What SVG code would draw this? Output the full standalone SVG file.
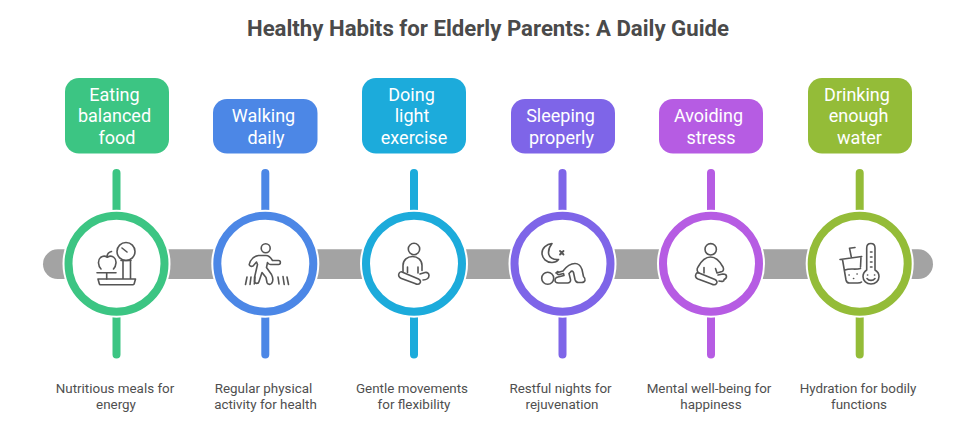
<svg xmlns="http://www.w3.org/2000/svg" width="958" height="437" viewBox="0 0 958 437">
<style>
text{font-family:Roboto,"Liberation Sans",sans-serif}
.title{font-size:22.2px;font-weight:700;fill:#4a4a4a;text-anchor:middle}
.lab{font-size:18px;fill:#fff;text-anchor:middle}
.cap{font-size:13.4px;fill:#4f4f4f;text-anchor:middle}
.halo{fill:#fff}
.ring{fill:#fff;stroke-width:8}
.stem{fill:none;stroke-width:8;stroke-linecap:round}
.ic{fill:none;stroke:#555;stroke-width:1.6;stroke-linecap:round;stroke-linejoin:round}
</style>
<rect width="958" height="437" fill="#fff"/>
<text class="title" x="488" y="36">Healthy Habits for Elderly Parents: A Daily Guide</text>
<g id="connectors">
<rect x="43" y="249.3" width="890" height="29.7" rx="14.85" fill="#a3a3a3"/>
<path class="stem" stroke="#3cc583" d="M116.5 173V212M116.5 316V354.500"/>
<path class="stem" stroke="#4c87e6" d="M265.300 173V212M265.300 316V354.500"/>
<path class="stem" stroke="#1cabdb" d="M414 173V212M414 316V354.500"/>
<path class="stem" stroke="#7e65e8" d="M562.500 173V212M562.500 316V354.500"/>
<path class="stem" stroke="#b65ce3" d="M711 173V212M711 316V354.500"/>
<path class="stem" stroke="#94bc38" d="M859.700 173V212M859.700 316V354.500"/>
</g>
<g id="node-eating">
<rect x="65" y="78" width="104" height="75.500" rx="14" fill="#3cc583"/>
<text class="lab" x="114.500" y="100.500">Eating</text><text class="lab" x="114.500" y="122">balanced</text><text class="lab" x="117" y="143.500">food</text>
<circle class="halo" cx="116.500" cy="263.700" r="54"/>
<circle class="ring" cx="116.500" cy="263.700" r="48" stroke="#3cc583"/>
<g class="ic">
<circle cx="126" cy="251.500" r="9"/><path d="M122 248l5 4M121 260.500h10M123 260.500V279M130.500 260.500V279M98 279h37.500l-1.300 4.800a1.200 1.200 0 0 1-1.200.9H100.500a1.200 1.200 0 0 1-1.200-.9z"/>
<path d="M97 272.700h19M106.700 272.700V279M101 269c-3-3-3.500-9-.5-11.500 2-1.500 5-1.500 6.800-.2 2-1.300 5-1.300 6.700.2 3 2.500 2.500 8-.5 11.500M107 256.500c.3-2.500 2-4.500 4.500-5"/>
</g>
<text class="cap" x="115" y="393">Nutritious meals for</text><text class="cap" x="116" y="409">energy</text>
</g>
<g id="node-walking">
<rect x="213" y="99" width="104.500" height="54.500" rx="14" fill="#4c87e6"/>
<text class="lab" x="263.500" y="122">Walking</text><text class="lab" x="266" y="143.500">daily</text>
<circle class="halo" cx="265.300" cy="263.700" r="54"/>
<circle class="ring" cx="265.300" cy="263.700" r="48" stroke="#4c87e6"/>
<g class="ic">
<circle cx="265.700" cy="248.300" r="4.500"/>
<path d="M250.500 261c1.500-3 5-5 8-5.500h7.500c3 0 5 2.500 6.500 5h6c2.500 0 2.500 4 0 4h-8c-1.500 0-2.500-1-3-2l-1 5 5 7c1.500 3 1.500 7 0 9-1.500 1.500-4 1-4.500-1l-1-5-4-5-3 9c-.5 2.500-4 2.500-4.500 0v-4l3-13-1-2.500-3.500 4c-2 1-4.500-.5-3.500-2.500z"/>
<path d="M247 277l-1.500 7.500M251 277l-1 7.500M255 277l-.7 7M278 277l1 7M283 276.500l1.200 8M287 277l1.500 7.500"/>
</g>
<text class="cap" x="263.500" y="393">Regular physical</text><text class="cap" x="265.500" y="409">activity for health</text>
</g>
<g id="node-exercise">
<rect x="362" y="78" width="104" height="75.500" rx="14" fill="#1cabdb"/>
<text class="lab" x="411.500" y="100.500">Doing</text><text class="lab" x="412" y="122">light</text><text class="lab" x="414" y="143.500">exercise</text>
<circle class="halo" cx="414" cy="263.700" r="54"/>
<circle class="ring" cx="414" cy="263.700" r="48" stroke="#1cabdb"/>
<g class="ic">
<circle cx="414" cy="249" r="5.700"/>
<path d="M403 271.500v-6c0-5.500 4.500-9 9.500-9s9.500 3.500 9.500 9v5"/>
<path d="M407.500 267v5.500M418 267v6"/>
<path d="M402 272l16.500 7c2 1 2.500 3 1.500 4-1 1.500-3 1.500-5 .5l-13.500-5c-2.500-1-3.500-3-2.500-5 .5-1 2-2 3-1.500z"/>
<path d="M420 274l5-1.500c2.500-.5 4 1 4 3 0 2.500-2.500 4.500-6 4.500"/>
</g>
<text class="cap" x="412" y="393">Gentle movements</text><text class="cap" x="414" y="409">for flexibility</text>
</g>
<g id="node-sleeping">
<rect x="511" y="99" width="104" height="54.500" rx="14" fill="#7e65e8"/>
<text class="lab" x="560.500" y="122">Sleeping</text><text class="lab" x="561.500" y="143.500">properly</text>
<circle class="halo" cx="562.500" cy="263.700" r="54"/>
<circle class="ring" cx="562.500" cy="263.700" r="48" stroke="#7e65e8"/>
<g class="ic">
<path d="M552 243.500c-5.500 .5-10 4.500-10 9.500 0 5.500 4.500 9.500 10 9.500 3 0 5-1 6.500-3-5 .5-10-2-10-7 0-3.500 1.500-6.500 3.500-9z"/>
<path d="M560 251l3.500 3.500M563.500 251l-3.500 3.500" stroke-width="1.800"/>
<circle cx="547.700" cy="278.300" r="6"/>
<path d="M556 273l7-2c3-4 7-7.500 12-7.500 4 0 6 3 7 6l1.500 7c1 1 2 2.500 1.500 4-.5 1.500-2 2-3.500 2h-3c-2 0-3-1-3.500-3l-1.500-7c-.5-1.500-2-2-3-.5l-1.500 1.500 1.500 6c.5 2-1 3.500-3 3.500h-9c-2.500 0-3.500-1.500-3.500-3s1-2.500 3-3l6-1.500-.5-2-4 1c-2.500.5-3.500-2-1.500-3z"/>
</g>
<text class="cap" x="560.500" y="393">Restful nights for</text><text class="cap" x="562" y="409">rejuvenation</text>
</g>
<g id="node-avoiding">
<rect x="659" y="99" width="104" height="54.500" rx="14" fill="#b65ce3"/>
<text class="lab" x="708.500" y="122">Avoiding</text><text class="lab" x="711" y="143.500">stress</text>
<circle class="halo" cx="711" cy="263.700" r="54"/>
<circle class="ring" cx="711" cy="263.700" r="48" stroke="#b65ce3"/>
<g class="ic">
<circle cx="710.700" cy="249.300" r="5.700"/>
<path d="M699 273c-2-1-2.500-4-1-6 3-5.500 7-10 12.500-10s9.500 4.500 12.500 10c1 2 .5 4-1 4.500l-5 1.500-1.500-4.500M704 267.500v5.500"/>
<path d="M699 273l16 6.500c2 1 2.500 3 1.500 4-1 1.500-3 1.500-5 .5l-13.500-5c-2.500-1-3-3-2-5 .5-1 2-1.500 3-1z"/>
<path d="M718 275l5-1c2 0 3.500 1 3.500 2.500 0 1.500-1 2.500-2.500 3 .5 1.500-1.500 2.500-5 1.500"/>
</g>
<text class="cap" x="709" y="393">Mental well-being for</text><text class="cap" x="711" y="409">happiness</text>
</g>
<g id="node-drinking">
<rect x="808" y="78" width="104" height="75.500" rx="14" fill="#94bc38"/>
<text class="lab" x="857" y="100.500">Drinking</text><text class="lab" x="858.500" y="122">enough</text><text class="lab" x="859.500" y="143.500">water</text>
<circle class="halo" cx="859.700" cy="263.700" r="54"/>
<circle class="ring" cx="859.700" cy="263.700" r="48" stroke="#94bc38"/>
<g class="ic">
<path d="M840 259.500l21.700-3M842.500 259.500l3.500 20.500c.4 2 1.500 3 3.500 3h8c1.500 0 3 0 4-1M861 257l-.5 10M851.500 258l-2-9.800 5.500-.7M845 270c5-2 10 0 15.500-1.500"/>
<path d="M866.700 270V248c0-6 8.300-6 8.300 0v22c2.500 1.500 4 4 4 6.500 0 4.500-3.500 7.500-8 7.500s-8-3-8-7.500c0-2.500 1.500-5 3.700-6.500z"/>
<path d="M870.500 252h1.500M870.500 257h1.500M870.500 262h1.500M870.500 267h1.500M867.500 275h.2M874.500 275h.2M867 278.500c2 2.500 6 2.500 8 0M849 275h.2M853.500 278.500h.2M857 274h.2"/>
</g>
<text class="cap" x="858" y="393">Hydration for bodily</text><text class="cap" x="859" y="409">functions</text>
</g>
</svg>
